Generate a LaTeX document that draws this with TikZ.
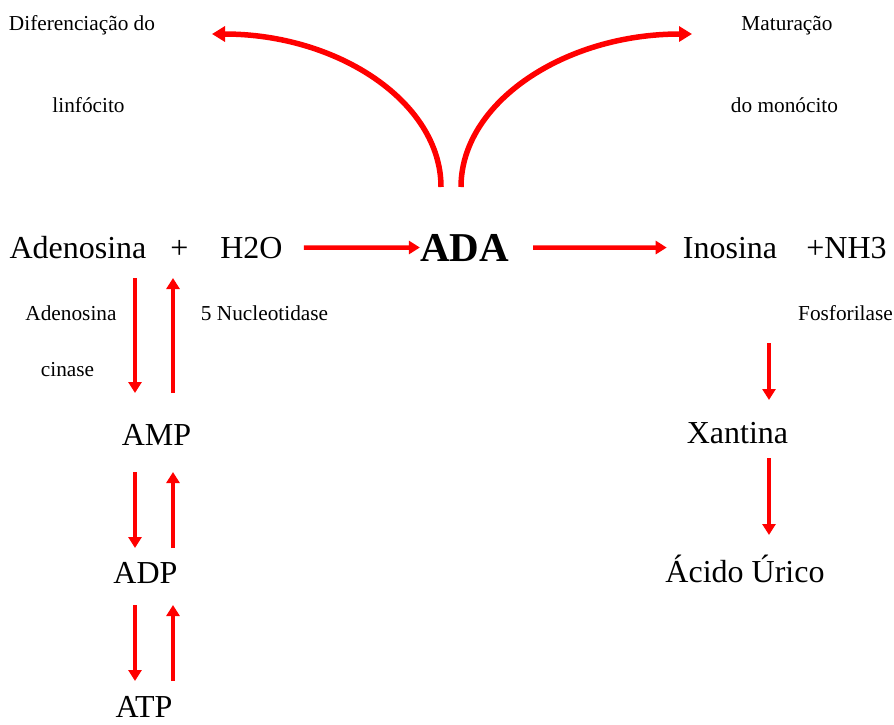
\documentclass[tikz,border=0pt]{standalone}
\usepackage{fontspec}
\setmainfont{Liberation Serif}
\usetikzlibrary{arrows.meta}
\newcommand{\bigtxt}{\fontsize{32}{38}\selectfont}
\newcommand{\smalltxt}{\fontsize{21.3}{26}\selectfont}
\newcommand{\adatxt}{\fontsize{41}{48}\selectfont\bfseries}

\begin{document}
\begin{tikzpicture}[x=1pt,y=-1pt,
        big/.style={anchor=base,inner sep=0pt,font=\bigtxt},
        small/.style={anchor=base,inner sep=0pt,font=\smalltxt},
        rxn/.style={draw=red,line width=4.5pt,-{Triangle[length=11pt,width=13pt]}},
        curv/.style={draw=red,line width=5.5pt,-{Triangle[length=13pt,width=15pt]}}]
        \useasboundingbox (0,0) rectangle (894,724);
        % arrow ends
        \coordinate (adaL)   at (441,187);
        \coordinate (adaR)   at (461,187);
        \coordinate (difTip) at (212,34);
        \coordinate (matTip) at (692,34);
        \coordinate (kinA)   at (135,278);
        \coordinate (kinB)   at (135,393);
        \coordinate (nucA)   at (173,393);
        \coordinate (nucB)   at (173,278);
        \coordinate (amA)    at (135,472);
        \coordinate (amB)    at (135,548);
        \coordinate (dpA)    at (173,548);
        \coordinate (dpB)    at (173,472);
        \coordinate (adA)    at (135,605);
        \coordinate (adB)    at (135,681);
        \coordinate (tpA)    at (173,681);
        \coordinate (tpB)    at (173,605);
        \coordinate (fosA)   at (769,343);
        \coordinate (fosB)   at (769,400);
        \coordinate (xanA)   at (769,458);
        \coordinate (xanB)   at (769,535);
        % top labels
        \node[small] (dif)  at (82,30)    {Diferenciação do};
        \node[small] (linf) at (88.5,112) {linfócito};
        \node[small] (mat)  at (787,30)   {Maturação};
        \node[small] (mono) at (784.5,112) {do monócito};
        % main line
        \node[big] (adenosina) at (78,258)    {Adenosina};
        \node[big] (plus)      at (179.5,258) {+};
        \node[big] (h2o)       at (251.5,258) {H2O};
        \node[big,font=\adatxt] (ada) at (464.5,261) {ADA};
        \node[big] (inosina)   at (730,258)   {Inosina};
        \node[big] (nh3)       at (846.5,258) {+NH3};
        % enzymes
        \node[small] (cin1) at (71,320)    {Adenosina};
        \node[small] (cin2) at (67.5,376)  {cinase};
        \node[small] (nucl) at (264.5,320) {5 Nucleotidase};
        \node[small] (fosf) at (845.5,320) {Fosforilase};
        % products
        \node[big] (amp)     at (156.5,445) {AMP};
        \node[big] (adp)     at (145.5,583) {ADP};
        \node[big] (atp)     at (144,717)   {ATP};
        \node[big] (xantina) at (737.5,443) {Xantina};
        \node[big] (acido)   at (745,582)   {Ácido Úrico};
        % arrows
        \draw[curv] (adaL) .. controls (441,102.5) and (338.4,34) .. (difTip);
        \draw[curv] (adaR) .. controls (461,102.5) and (564.5,34) .. (matTip);
        \draw[rxn,shorten <=21pt] (h2o.east) -- (ada.west);
        \draw[rxn,shorten <=24pt,shorten >=16pt] (ada.east) -- (inosina.west);
        \draw[rxn] (kinA) -- (kinB);
        \draw[rxn] (nucA) -- (nucB);
        \draw[rxn] (amA) -- (amB);
        \draw[rxn] (dpA) -- (dpB);
        \draw[rxn] (adA) -- (adB);
        \draw[rxn] (tpA) -- (tpB);
        \draw[rxn] (fosA) -- (fosB);
        \draw[rxn] (xanA) -- (xanB);
    \end{tikzpicture}
\end{document}
